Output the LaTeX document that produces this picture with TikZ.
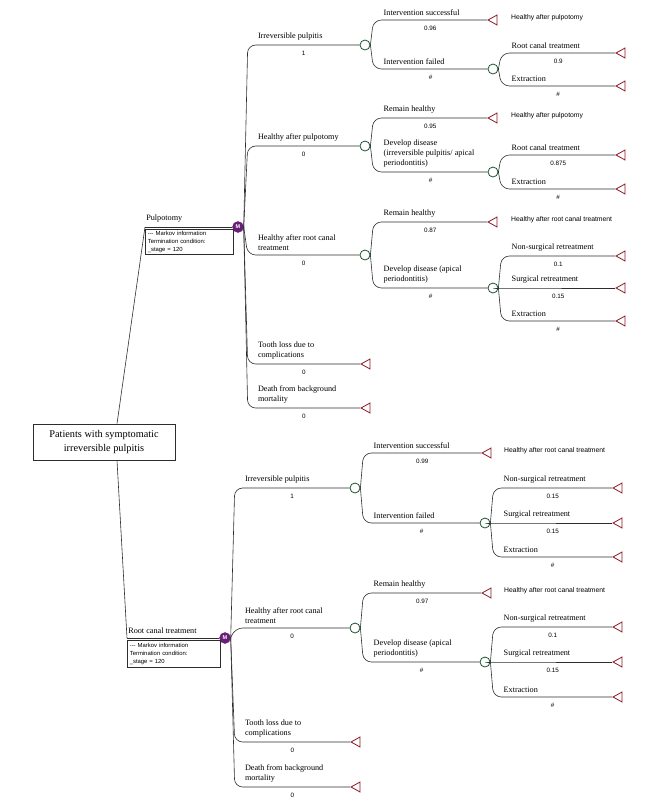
\documentclass[tikz,border=0pt]{standalone}
\usepackage{fontspec}
\setmainfont{Liberation Serif}
\setsansfont{Liberation Sans}
\usetikzlibrary{shapes.geometric,positioning}

\definecolor{chgreen}{RGB}{25,85,45}
\definecolor{termred}{RGB}{140,25,35}
\definecolor{mpurple}{RGB}{105,30,120}
\definecolor{linecol}{RGB}{45,45,45}

\tikzset{
	branch/.style={draw=linecol, line width=0.6pt, rounded corners=8pt},
	chance/.style={circle, draw=chgreen, line width=0.8pt, fill=white, minimum size=10pt, inner sep=0pt},
	terminal/.style={isosceles triangle, isosceles triangle stretches, shape border rotate=180, draw=termred, line width=0.8pt, fill=white, minimum width=10pt, minimum height=9pt, inner sep=0pt, anchor=apex},
	markov/.style={circle, fill=mpurple, draw=mpurple, minimum size=11pt, inner sep=0pt, text=white, font=\sffamily\bfseries\fontsize{5.5}{5.5}\selectfont},
	blabel/.style={anchor=south west, align=left, inner sep=1pt, xshift=9pt, yshift=3pt, font=\fontsize{8.2}{10}\selectfont},
	prob/.style={below=4.5pt, inner sep=1pt, font=\sffamily\fontsize{6.3}{7}\selectfont},
	tlabel/.style={anchor=west, inner sep=0pt, font=\sffamily\fontsize{6.8}{8}\selectfont},
	minfo/.style={draw=linecol, line width=0.6pt, anchor=north west, align=left, inner sep=1.5pt, font=\sffamily\fontsize{5.9}{8}\selectfont},
	rootbox/.style={draw=linecol, line width=0.6pt, align=center, minimum width=142pt, minimum height=36pt, font=\fontsize{10.3}{14}\selectfont}
}

\begin{document}
\begin{tikzpicture}[x=1pt, y=-1pt]
	\useasboundingbox (0,0) rectangle (669,804);
	
	%Root
	\node (root) at (104,442) [rootbox]{Patients with symptomatic\\irreversible pulpitis};
	
	%Pulpotomy strategy
	\coordinate (pStart) at (145,227);
	\node (Mp) at (238,227) [markov]{M};
	\node (pInfo) at (145,229) [minfo, minimum width=88pt, minimum height=25pt, text width=83pt]{-{}-{}- Markov information\\Termination condition:\\\_stage = 120};
	\draw[branch] ([xshift=13pt]root.north) -- (pStart);
	\draw[branch] (pStart) -- node[pos=0, blabel, xshift=-9pt]{Pulpotomy} (Mp);
	
	\node (cA) at (365,45) [chance]{};
	\node (cB) at (365,146) [chance]{};
	\node (cC) at (365,255) [chance]{};
	\node (tD) at (360,364) [terminal]{};
	\node (tE) at (360,408) [terminal]{};
	
	\draw[branch] (Mp.east) -- ([xshift=4pt]Mp.east |- cA) -- node[prob]{1} node[pos=0, blabel]{Irreversible pulpitis} (cA);
	\draw[branch] (Mp.east) -- ([xshift=4pt]Mp.east |- cB) -- node[prob]{0} node[pos=0, blabel]{Healthy after pulpotomy} (cB);
	\draw[branch] (Mp.east) -- ([xshift=4pt]Mp.east |- cC) -- node[prob]{0} node[pos=0, blabel]{Healthy after root canal\\treatment} (cC);
	\draw[branch] (Mp.east) -- ([xshift=4pt]Mp.east |- tD) -- node[prob]{0} node[pos=0, blabel]{Tooth loss due to\\complications} (tD.apex);
	\draw[branch] (Mp.east) -- ([xshift=4pt]Mp.east |- tE) -- node[prob]{0} node[pos=0, blabel]{Death from background\\mortality} (tE.apex);
	
	%Irreversible pulpitis after pulpotomy
	\node (tA1) at (487,20) [terminal]{};
	\node (cA2) at (493,69) [chance]{};
	\node (tA21) at (615,53) [terminal]{};
	\node (tA22) at (615,86) [terminal]{};
	\node (lA1) at ([xshift=24pt,yshift=2pt]tA1.apex) [tlabel]{Healthy after pulpotomy};
	
	\draw[branch] (cA.east) -- ([xshift=3pt]cA.east |- tA1) -- node[prob]{0.96} node[pos=0, blabel]{Intervention successful} (tA1.apex);
	\draw[branch] (cA.east) -- ([xshift=3pt]cA.east |- cA2) -- node[prob]{\#} node[pos=0, blabel]{Intervention failed} (cA2);
	\draw[branch] (cA2.east) -- ([xshift=3pt]cA2.east |- tA21) -- node[prob]{0.9} node[pos=0, blabel]{Root canal treatment} (tA21.apex);
	\draw[branch] (cA2.east) -- ([xshift=3pt]cA2.east |- tA22) -- node[prob]{\#} node[pos=0, blabel]{Extraction} (tA22.apex);
	
	%Healthy after pulpotomy
	\node (tB1) at (487,118) [terminal]{};
	\node (cB2) at (493,172) [chance]{};
	\node (tB21) at (615,155) [terminal]{};
	\node (tB22) at (615,189) [terminal]{};
	\node (lB1) at ([xshift=24pt,yshift=2pt]tB1.apex) [tlabel]{Healthy after pulpotomy};
	
	\draw[branch] (cB.east) -- ([xshift=3pt]cB.east |- tB1) -- node[prob]{0.95} node[pos=0, blabel]{Remain healthy} (tB1.apex);
	\draw[branch] (cB.east) -- ([xshift=3pt]cB.east |- cB2) -- node[prob]{\#} node[pos=0, blabel]{Develop disease\\(irreversible pulpitis/ apical\\periodontitis)} (cB2);
	\draw[branch] (cB2.east) -- ([xshift=3pt]cB2.east |- tB21) -- node[prob]{0.875} node[pos=0, blabel]{Root canal treatment} (tB21.apex);
	\draw[branch] (cB2.east) -- ([xshift=3pt]cB2.east |- tB22) -- node[prob]{\#} node[pos=0, blabel]{Extraction} (tB22.apex);
	
	%Healthy after root canal treatment (pulpotomy arm)
	\node (tC1) at (487,222) [terminal]{};
	\node (cC2) at (493,288) [chance]{};
	\node (tC21) at (615,256) [terminal]{};
	\node (tC22) at (615,288) [terminal]{};
	\node (tC23) at (615,321) [terminal]{};
	\node (lC1) at ([xshift=24pt,yshift=2pt]tC1.apex) [tlabel]{Healthy after root canal treatment};
	
	\draw[branch] (cC.east) -- ([xshift=3pt]cC.east |- tC1) -- node[prob]{0.87} node[pos=0, blabel]{Remain healthy} (tC1.apex);
	\draw[branch] (cC.east) -- ([xshift=3pt]cC.east |- cC2) -- node[prob]{\#} node[pos=0, blabel]{Develop disease (apical\\periodontitis)} (cC2);
	\draw[branch] (cC2.east) -- ([xshift=3pt]cC2.east |- tC21) -- node[prob]{0.1} node[pos=0, blabel]{Non-surgical retreatment} (tC21.apex);
	\draw[branch] (cC2.east) -- ([xshift=3pt]cC2.east |- tC22) -- node[prob]{0.15} node[pos=0, blabel]{Surgical retreatment} (tC22.apex);
	\draw[branch] (cC2.east) -- ([xshift=3pt]cC2.east |- tC23) -- node[prob]{\#} node[pos=0, blabel]{Extraction} (tC23.apex);
	
	%Root canal treatment strategy
	\coordinate (rStart) at (127,638);
	\node (Mr) at (225,638) [markov]{M};
	\node (rInfo) at (127,640) [minfo, minimum width=93pt, minimum height=27pt, text width=88pt]{-{}-{}- Markov information\\Termination condition:\\\_stage = 120};
	\draw[branch] ([xshift=13pt]root.south) -- (rStart);
	\draw[branch] (rStart) -- node[pos=0, blabel, xshift=-9pt]{Root canal treatment} (Mr);
	
	\node (cF) at (355,488) [chance]{};
	\node (cG) at (355,628) [chance]{};
	\node (tH) at (350,742) [terminal]{};
	\node (tI) at (350,787) [terminal]{};
	
	\draw[branch] (Mr.east) -- ([xshift=4pt]Mr.east |- cF) -- node[prob]{1} node[pos=0, blabel]{Irreversible pulpitis} (cF);
	\draw[branch] (Mr.east) -- ([xshift=4pt]Mr.east |- cG) -- node[prob]{0} node[pos=0, blabel]{Healthy after root canal\\treatment} (cG);
	\draw[branch] (Mr.east) -- ([xshift=4pt]Mr.east |- tH) -- node[prob]{0} node[pos=0, blabel]{Tooth loss due to\\complications} (tH.apex);
	\draw[branch] (Mr.east) -- ([xshift=4pt]Mr.east |- tI) -- node[prob]{0} node[pos=0, blabel]{Death from background\\mortality} (tI.apex);
	
	%Irreversible pulpitis after root canal treatment
	\node (tF1) at (481,453) [terminal]{};
	\node (cF2) at (485,523) [chance]{};
	\node (tF21) at (612,488) [terminal]{};
	\node (tF22) at (612,523) [terminal]{};
	\node (tF23) at (612,557) [terminal]{};
	\node (lF1) at ([xshift=23pt,yshift=2pt]tF1.apex) [tlabel]{Healthy after root canal treatment};
	
	\draw[branch] (cF.east) -- ([xshift=3pt]cF.east |- tF1) -- node[prob]{0.99} node[pos=0, blabel]{Intervention successful} (tF1.apex);
	\draw[branch] (cF.east) -- ([xshift=3pt]cF.east |- cF2) -- node[prob]{\#} node[pos=0, blabel]{Intervention failed} (cF2);
	\draw[branch] (cF2.east) -- ([xshift=3pt]cF2.east |- tF21) -- node[prob]{0.15} node[pos=0, blabel]{Non-surgical retreatment} (tF21.apex);
	\draw[branch] (cF2.east) -- ([xshift=3pt]cF2.east |- tF22) -- node[prob]{0.15} node[pos=0, blabel]{Surgical retreatment} (tF22.apex);
	\draw[branch] (cF2.east) -- ([xshift=3pt]cF2.east |- tF23) -- node[prob]{\#} node[pos=0, blabel]{Extraction} (tF23.apex);
	
	%Healthy after root canal treatment
	\node (tG1) at (481,593) [terminal]{};
	\node (cG2) at (485,662) [chance]{};
	\node (tG21) at (612,627) [terminal]{};
	\node (tG22) at (612,662) [terminal]{};
	\node (tG23) at (612,697) [terminal]{};
	\node (lG1) at ([xshift=23pt,yshift=2pt]tG1.apex) [tlabel]{Healthy after root canal treatment};
	
	\draw[branch] (cG.east) -- ([xshift=3pt]cG.east |- tG1) -- node[prob]{0.97} node[pos=0, blabel]{Remain healthy} (tG1.apex);
	\draw[branch] (cG.east) -- ([xshift=3pt]cG.east |- cG2) -- node[prob]{\#} node[pos=0, blabel]{Develop disease (apical\\periodontitis)} (cG2);
	\draw[branch] (cG2.east) -- ([xshift=3pt]cG2.east |- tG21) -- node[prob]{0.1} node[pos=0, blabel]{Non-surgical retreatment} (tG21.apex);
	\draw[branch] (cG2.east) -- ([xshift=3pt]cG2.east |- tG22) -- node[prob]{0.15} node[pos=0, blabel]{Surgical retreatment} (tG22.apex);
	\draw[branch] (cG2.east) -- ([xshift=3pt]cG2.east |- tG23) -- node[prob]{\#} node[pos=0, blabel]{Extraction} (tG23.apex);
\end{tikzpicture}
\end{document}
